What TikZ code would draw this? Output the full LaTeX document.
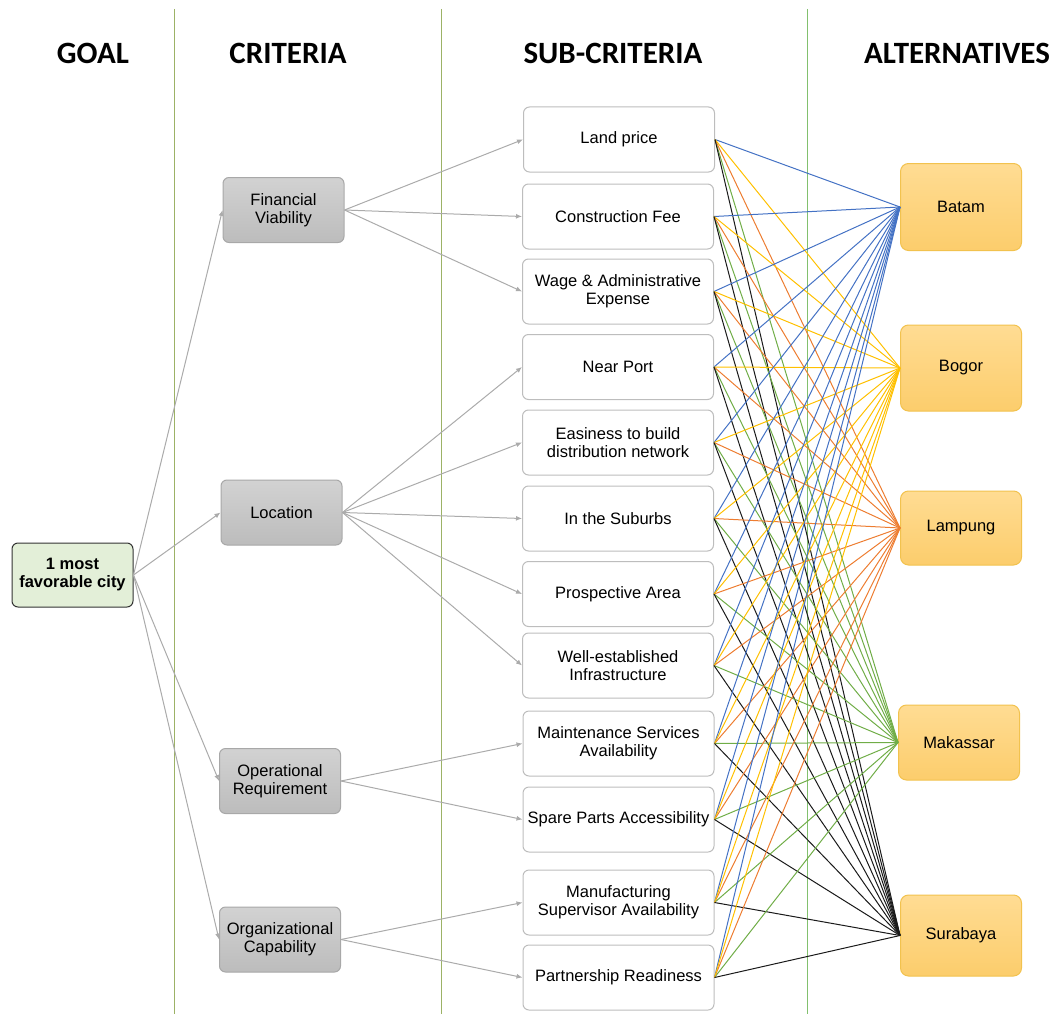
\documentclass[tikz,border=0pt]{standalone}
\usepackage{fontspec}
\setmainfont{Liberation Sans}
\newfontfamily\hdrfont{Carlito}
\usetikzlibrary{arrows.meta}
\definecolor{cblue}{HTML}{4472C4}
\definecolor{cgold}{HTML}{FFC000}
\definecolor{corange}{HTML}{ED7D31}
\definecolor{cgreen}{HTML}{70AD47}
\definecolor{cblack}{HTML}{1A1A1A}
\definecolor{vline}{HTML}{9CB266}
\definecolor{vlinegreen}{HTML}{82C06E}
\definecolor{arrgray}{HTML}{ABABAB}
\definecolor{goalfill}{HTML}{E3EFD8}
\definecolor{alttop}{HTML}{FFDC93}
\definecolor{altbot}{HTML}{FCCD6C}
\definecolor{altdraw}{HTML}{F2C24E}
\definecolor{crittop}{HTML}{D2D2D2}
\definecolor{critbot}{HTML}{BCBCBC}
\definecolor{critdraw}{HTML}{A8A8A8}
\definecolor{subdraw}{HTML}{BDBDBD}
\begin{document}
\begin{tikzpicture}[x=1pt,y=-1pt,
  hdr/.style={anchor=base,font=\hdrfont\bfseries\fontsize{31}{31}\selectfont},
  txt/.style={align=center,font=\fontsize{16.5}{18}\selectfont,inner sep=2pt},
  goalbox/.style={txt,draw=black!80,fill=goalfill,line width=1pt,rounded corners=6pt,minimum width=121pt,minimum height=64pt,font=\bfseries\fontsize{16.5}{18}\selectfont},
  critbox/.style={txt,draw=critdraw,top color=crittop,bottom color=critbot,line width=1pt,rounded corners=6pt,minimum width=121pt,minimum height=65pt},
  subbox/.style={txt,draw=subdraw,fill=white,line width=1pt,rounded corners=6pt,minimum width=191pt,minimum height=65pt},
  altbox/.style={txt,draw=altdraw,top color=alttop,bottom color=altbot,line width=1pt,rounded corners=8pt,minimum width=121pt},
  garrow/.style={draw=arrgray,line width=1pt,-{Latex[length=6pt,width=5pt]}},
  link/.style={line width=1pt}
]
\useasboundingbox (0,0) rectangle (1057,1014);
% column separators
\coordinate (v1t) at (174,9);   \coordinate (v1b) at (174,1014);
\coordinate (v2t) at (441,9);   \coordinate (v2b) at (441,1014);
\coordinate (v3t) at (807,9);   \coordinate (v3b) at (807,1014);
\draw[vline,line width=1pt] (v1t) -- (v1b);
\draw[vline,line width=1pt] (v2t) -- (v2b);
\draw[vlinegreen,line width=1pt] (v3t) -- (v3b);
% headers
\node[hdr] (hgoal) at (93,64) {GOAL};
\node[hdr] (hcrit) at (288,64) {CRITERIA};
\node[hdr] (hsub) at (613,64) {SUB-CRITERIA};
\node[hdr] (halt) at (957,64) {ALTERNATIVES};
% goal
\node[goalbox] (goal) at (72.5,575) {1 most\\favorable city};
% criteria
\node[critbox] (fin) at (283.5,210) {Financial\\Viability};
\node[critbox] (loc) at (281.5,512.5) {Location};
\node[critbox] (ope) at (280,781) {Operational\\Requirement};
\node[critbox] (org) at (280,939.5) {Organizational\\Capability};
% sub-criteria
\node[subbox] (s1) at (619,139.5) {Land price};
\node[subbox] (s2) at (618,216.5) {Construction Fee};
\node[subbox] (s3) at (618,291.5) {Wage \& Administrative\\Expense};
\node[subbox] (s4) at (618,367) {Near Port};
\node[subbox] (s5) at (618,442.5) {Easiness to build\\distribution network};
\node[subbox] (s6) at (618,518.5) {In the Suburbs};
\node[subbox] (s7) at (618,594) {Prospective Area};
\node[subbox] (s8) at (618,665.5) {Well-established\\Infrastructure};
\node[subbox] (s9) at (618.5,743.5) {Maintenance Services\\Availability};
\node[subbox] (s10) at (618.5,819.5) {Spare Parts Accessibility};
\node[subbox] (s11) at (618.5,902.5) {Manufacturing\\Supervisor Availability};
\node[subbox] (s12) at (618.5,977.5) {Partnership Readiness};
% alternatives
\node[altbox,minimum height=87pt] (batam) at (961,207) {Batam};
\node[altbox,minimum height=86pt] (bogor) at (961,368) {Bogor};
\node[altbox,minimum height=74pt] (lampung) at (961,528) {Lampung};
\node[altbox,minimum height=75pt] (makassar) at (959,742.5) {Makassar};
\node[altbox,minimum height=81pt] (surabaya) at (961,935.5) {Surabaya};
% goal -> criteria
\foreach \c in {fin,loc,ope,org} \draw[garrow] (goal.east) -- (\c.west);
% criteria -> sub-criteria
\foreach \s in {s1,s2,s3} \draw[garrow] (fin.east) -- (\s.west);
\foreach \s in {s4,s5,s6,s7,s8} \draw[garrow] (loc.east) -- (\s.west);
\foreach \s in {s9,s10} \draw[garrow] (ope.east) -- (\s.west);
\foreach \s in {s11,s12} \draw[garrow] (org.east) -- (\s.west);
% sub-criteria -> alternatives
\foreach \s in {s1,s2,s3,s4,s5,s6,s7,s8,s9,s10,s11,s12}{
  \draw[link,cgreen] (\s.east) -- (makassar.west);
  \draw[link,corange] (\s.east) -- (lampung.west);
  \draw[link,cblue] (\s.east) -- (batam.west);
  \draw[link,cgold] (\s.east) -- (bogor.west);
  \draw[link,cblack] (\s.east) -- (surabaya.west);
}
\end{tikzpicture}
\end{document}
